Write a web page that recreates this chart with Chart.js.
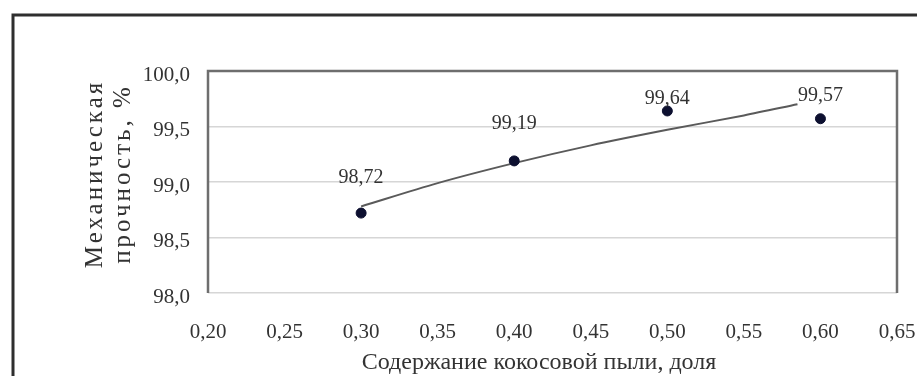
<!DOCTYPE html>
<html lang="ru">
<head>
<meta charset="utf-8">
<title>Механическая прочность</title>
<script src="https://cdn.jsdelivr.net/npm/chart.js@4/dist/chart.umd.min.js"></script>
<style>
  html, body { margin: 0; padding: 0; background: #ffffff; }
  canvas { display: block; }
</style>
</head>
<body>
<canvas id="chart" width="917" height="376"></canvas>
<script>
// Доля кокосовой пыли и измеренная механическая прочность, %
const contentShare = [0.30, 0.40, 0.50, 0.60];
const strength = [98.72, 99.19, 99.64, 99.57];

// Линия тренда
const trendShare = [0.30, 0.35, 0.40, 0.45, 0.50, 0.55, 0.585];
const trendStrength = [98.78, 98.99, 99.17, 99.33, 99.47, 99.60, 99.70];

// Оси
const xTicks = [0.20, 0.25, 0.30, 0.35, 0.40, 0.45, 0.50, 0.55, 0.60, 0.65];
const yTicks = [98.0, 98.5, 99.0, 99.5, 100.0];

const xTitle = 'Содержание кокосовой пыли, доля';
const yTitle = ['Механическая', 'прочность, %'];

const SERIF = '"Liberation Serif", "Times New Roman", serif';
const TEXT = '#333333';

const fmt = (v, d) => v.toFixed(d).replace('.', ',');

// Фон, внешняя рамка, рамка области построения и подписи осей
const framePlugin = {
  id: 'frame',
  beforeDraw(chart) {
    const ctx = chart.ctx;
    ctx.save();
    ctx.fillStyle = '#ffffff';
    ctx.fillRect(0, 0, chart.width, chart.height);
    ctx.strokeStyle = '#2e2e2e';
    ctx.lineWidth = 3;
    ctx.beginPath();
    ctx.moveTo(13, chart.height);
    ctx.lineTo(13, 15);
    ctx.lineTo(chart.width, 15);
    ctx.stroke();
    ctx.restore();
  },
  afterDatasetsDraw(chart) {
    const { ctx, chartArea: a } = chart;
    ctx.save();
    ctx.strokeStyle = '#6e6e6e';
    ctx.lineWidth = 2.5;
    ctx.beginPath();
    ctx.moveTo(a.left, a.bottom);
    ctx.lineTo(a.left, a.top);
    ctx.lineTo(a.right, a.top);
    ctx.lineTo(a.right, a.bottom);
    ctx.stroke();
    ctx.restore();
  },
  afterDraw(chart) {
    const { ctx, chartArea: a } = chart;
    ctx.save();
    ctx.fillStyle = TEXT;
    ctx.textAlign = 'center';
    ctx.textBaseline = 'middle';
    ctx.font = '24px ' + SERIF;
    ctx.fillText(xTitle, a.left + 331, a.bottom + 70);
    ctx.font = '25px ' + SERIF;
    if ('letterSpacing' in ctx) ctx.letterSpacing = '3px';
    ctx.translate(95, a.top + 103);
    ctx.rotate(-Math.PI / 2);
    yTitle.forEach((line, i) => ctx.fillText(line, 0, i * 28));
    ctx.restore();
  }
};

// Подписи значений над точками
const valueLabels = {
  id: 'valueLabels',
  afterDatasetsDraw(chart, args, opts) {
    const meta = chart.getDatasetMeta(0);
    const ctx = chart.ctx;
    ctx.save();
    ctx.fillStyle = TEXT;
    ctx.font = '20px ' + SERIF;
    ctx.textAlign = 'center';
    ctx.textBaseline = 'middle';
    meta.data.forEach((pt, i) => {
      ctx.fillText(fmt(strength[i], 2), pt.x, pt.y - opts.lift[i]);
    });
    ctx.restore();
  }
};

new Chart(document.getElementById('chart'), {
  type: 'scatter',
  data: {
    datasets: [
      {
        data: contentShare.map((x, i) => ({ x, y: strength[i] })),
        backgroundColor: '#0d1030',
        borderColor: '#0d1030',
        pointRadius: 5,
        pointHoverRadius: 5
      },
      {
        type: 'line',
        data: trendShare.map((x, i) => ({ x, y: trendStrength[i] })),
        borderColor: '#5a5a5a',
        borderWidth: 2,
        pointRadius: 0,
        tension: 0.3,
        fill: false
      }
    ]
  },
  options: {
    responsive: false,
    animation: false,
    layout: { padding: { top: 71, right: 0, left: 0, bottom: 0 } },
    plugins: {
      legend: { display: false },
      tooltip: { enabled: false },
      valueLabels: { lift: [35, 37, 12, 23] }
    },
    scales: {
      x: {
        type: 'linear',
        min: xTicks[0],
        max: xTicks[xTicks.length - 1],
        afterBuildTicks(scale) { scale.ticks = xTicks.map(v => ({ value: v })); },
        afterFit(scale) {
          scale.height = 83;
          scale.paddingRight = 20;
        },
        grid: { display: false },
        border: { display: false },
        ticks: {
          color: TEXT,
          font: { family: SERIF, size: 21 },
          padding: 19,
          maxRotation: 0,
          autoSkip: false,
          callback: v => fmt(v, 2)
        }
      },
      y: {
        min: yTicks[0],
        max: yTicks[yTicks.length - 1],
        afterBuildTicks(scale) { scale.ticks = yTicks.map(v => ({ value: v })); },
        afterFit(scale) { scale.width = 208; },
        grid: { color: '#d6d6d6', lineWidth: 1.5, drawTicks: false },
        border: { display: false },
        ticks: {
          color: TEXT,
          font: { family: SERIF, size: 21 },
          padding: 18,
          labelOffset: 4,
          callback: v => fmt(v, 1)
        }
      }
    }
  },
  plugins: [framePlugin, valueLabels]
});
</script>
</body>
</html>
